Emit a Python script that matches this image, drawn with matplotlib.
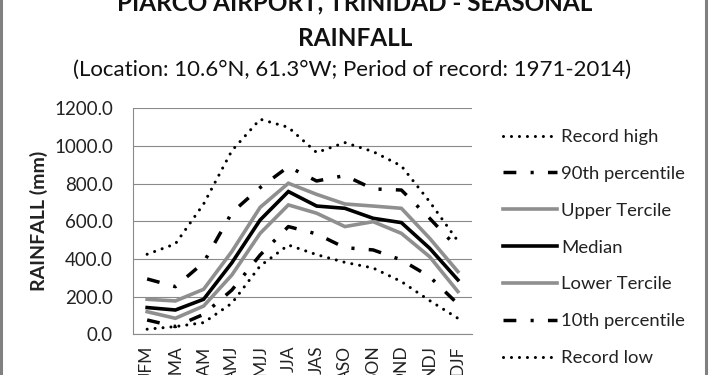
import matplotlib
matplotlib.use("Agg")
import matplotlib.pyplot as plt
from matplotlib.lines import Line2D

plt.rcParams['font.family'] = ['Lato', 'DejaVu Sans']

seasons = ["JFM", "FMA", "MAM", "AMJ", "MJJ", "JJA", "JAS", "ASO", "SON", "OND", "NDJ", "DJF"]
record_high = [425, 480, 692, 975, 1142, 1099, 965, 1018, 970, 894, 704, 495]
p90 = [294, 253, 381, 646, 779, 890, 814, 843, 772, 766, 616, 457]
upper_tercile = [186, 177, 239, 440, 674, 802, 743, 692, 681, 669, 510, 333]
median = [142, 129, 186, 380, 607, 758, 681, 669, 616, 593, 457, 289]
lower_tercile = [120, 85, 150, 315, 536, 687, 643, 572, 598, 536, 412, 227]
p10 = [76, 41, 106, 235, 421, 572, 533, 460, 448, 395, 306, 161]
record_low = [27, 41, 62, 165, 363, 474, 423, 382, 352, 280, 179, 85]
yticks = [0, 200, 400, 600, 800, 1000, 1200]

W, H = 710, 375
fig = plt.figure(figsize=(W / 100, H / 100), dpi=100)
ax = fig.add_axes([133 / W, 1 - 334.3 / H, (472 - 133) / W, (334.3 - 108.3) / H])

x = list(range(len(seasons)))
GRAY = "#8f8f8f"
dot = (0, (0.01, 2.6))
dashdot = (0, (3.7, 4.1, 0.9, 4.1))

series = [
    ("Record high", record_high, "black", dot, 2.2),
    ("90th percentile", p90, "black", dashdot, 2.5),
    ("Upper Tercile", upper_tercile, GRAY, "-", 2.6),
    ("Median", median, "black", "-", 2.6),
    ("Lower Tercile", lower_tercile, GRAY, "-", 2.6),
    ("10th percentile", p10, "black", dashdot, 2.5),
    ("Record low", record_low, "black", dot, 2.2),
]
for label, vals, col, ls, lw in series:
    capstyle = "round" if ls is dot else "butt"
    ax.plot(x, vals, color=col, linestyle=ls, lw=lw, label=label,
            dash_capstyle=capstyle, solid_joinstyle="miter", clip_on=False)

ax.set_xlim(-0.5, len(seasons) - 0.5)
ax.set_ylim(0, 1200)
ax.set_yticks(yticks)
ax.set_yticklabels([f"{v:.1f}" for v in yticks], fontsize=13.5, color="#222222")
ax.set_xticks(x)
ax.set_xticklabels(seasons, rotation=90, ha="center", va="top", fontsize=12.5, color="#222222")
ax.tick_params(axis="both", length=0)
ax.tick_params(axis="y", pad=14.5)
ax.tick_params(axis="x", pad=8)
ax.grid(axis="y", color="#8a8a8a", lw=0.8)
ax.set_axisbelow(True)
for s in ["top", "right"]:
    ax.spines[s].set_visible(False)
for s in ["left", "bottom"]:
    ax.spines[s].set_color("#8a8a8a")
    ax.spines[s].set_linewidth(0.8)

ax.set_ylabel("RAINFALL (mm)", fontsize=14, fontweight="bold", color="#222222", labelpad=4)

fig.text(355 / W, 1 - 3 / H, "PIARCO AIRPORT, TRINIDAD - SEASONAL", ha="center", va="center",
         fontsize=17.5, fontweight="bold", color="#111111")
fig.text(355 / W, 1 - 46 / H, "RAINFALL", ha="center", va="baseline",
         fontsize=17.5, fontweight="bold", color="#111111")
fig.text(352 / W, 1 - 76 / H, "(Location: 10.6°N, 61.3°W; Period of record: 1971-2014)",
         ha="center", va="baseline", fontsize=16, color="#111111")

leg = ax.legend(loc="upper left", bbox_to_anchor=(503 / W, 1 - 129 / H), bbox_transform=fig.transFigure,
                frameon=False, fontsize=13.3, handlelength=2.95, handletextpad=0.2,
                labelspacing=1.13, borderpad=0, borderaxespad=0)
for t in leg.get_texts():
    t.set_color("#222222")

fig.add_artist(Line2D([1.5 / W, 1.5 / W], [0, 1], transform=fig.transFigure, color="#808080", lw=2.2))
fig.add_artist(Line2D([705.5 / W, 705.5 / W], [0, 1], transform=fig.transFigure, color="#808080", lw=2.2))

fig.savefig("out.png", dpi=100)
